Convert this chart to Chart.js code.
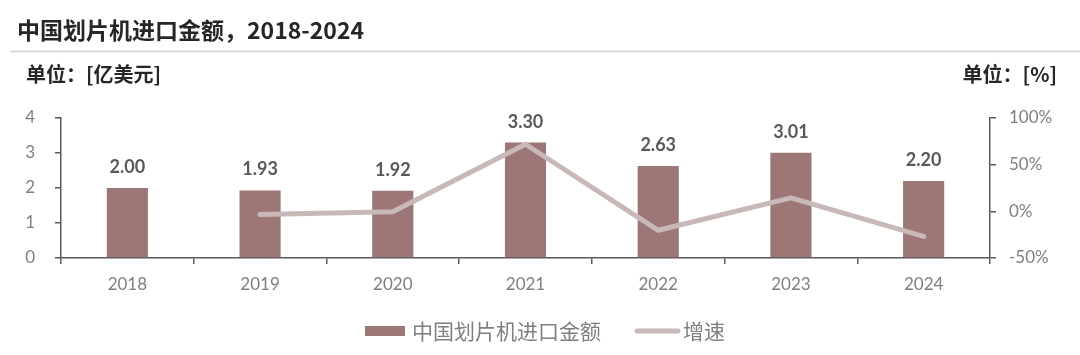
<!DOCTYPE html>
<html><head><meta charset="utf-8">
<script src="https://cdn.jsdelivr.net/npm/chart.js@4.4.1/dist/chart.umd.min.js"></script>
<style>
html,body{margin:0;padding:0;background:#fff;}
#wrap{position:relative;width:1080px;height:355px;}
canvas{position:absolute;left:0;top:0;}
</style></head>
<body><div id="wrap"><canvas id="c" width="1080" height="355"></canvas></div>
<script>
const categories = ['2018','2019','2020','2021','2022','2023','2024'];
const importValues = [2.00, 1.93, 1.92, 3.30, 2.63, 3.01, 2.20];
const growthValues = [null, -3.5, -0.5, 71.9, -20.3, 14.4, -26.9];
const leftTicks = [0, 1, 2, 3, 4];
const rightTicks = [-50, 0, 50, 100];
const titleText = '中国划片机进口金额，2018-2024';
const leftUnit = '单位：[亿美元]';
const rightUnit = '单位：[%]';
const barLabel = '中国划片机进口金额';
const lineLabel = '增速';

const BAR = '#9c7775';
const LINE = '#c8b8b8';
const AXIS = '#595959';
const TICK = '#7f7f7f';
const NUMF = 'Lato, "Noto Sans CJK SC", sans-serif';
const CJK = '"Noto Sans CJK SC", "Noto Sans", sans-serif';

const deco = {
  id: 'deco',
  afterDraw(chart) {
    const ctx = chart.ctx;
    ctx.save();
    ctx.fillStyle = '#262626';
    ctx.font = 'bold 23px ' + CJK;
    ctx.textBaseline = 'middle';
    ctx.textAlign = 'left';
    ctx.fillText(titleText, 17, 30);
    ctx.strokeStyle = '#cfcfcf';
    ctx.lineWidth = 1.5;
    ctx.beginPath(); ctx.moveTo(10, 51.5); ctx.lineTo(1080, 51.5); ctx.stroke();
    ctx.font = 'bold 20px ' + CJK;
    ctx.fillStyle = '#262626';
    ctx.fillText(leftUnit, 26, 74);
    ctx.textAlign = 'right';
    ctx.fillText(rightUnit, 1057, 74);
    const meta = chart.getDatasetMeta(0);
    ctx.font = 'bold 18px ' + NUMF;
    ctx.fillStyle = '#595959';
    ctx.textAlign = 'center';
    ctx.textBaseline = 'alphabetic';
    meta.data.forEach((bar, i) => {
      ctx.fillText(importValues[i].toFixed(2), bar.x, bar.y - 15);
    });
    ctx.fillStyle = BAR;
    ctx.fillRect(365, 326, 40, 10);
    ctx.font = '21px ' + CJK;
    ctx.fillStyle = '#7f7f7f';
    ctx.textAlign = 'left';
    ctx.textBaseline = 'middle';
    ctx.fillText(barLabel, 412, 331);
    ctx.strokeStyle = LINE;
    ctx.lineWidth = 5;
    ctx.lineCap = 'round';
    ctx.beginPath(); ctx.moveTo(637, 331); ctx.lineTo(678, 331); ctx.stroke();
    ctx.fillText(lineLabel, 683, 331);
    ctx.restore();
  }
};

new Chart(document.getElementById('c'), {
  data: {
    labels: categories,
    datasets: [
      { type: 'bar', label: barLabel, data: importValues, backgroundColor: BAR,
        yAxisID: 'y', barPercentage: 0.31, categoryPercentage: 1, order: 2 },
      { type: 'line', label: lineLabel, data: growthValues, borderColor: LINE,
        borderWidth: 5, pointRadius: 0, borderCapStyle: 'round', borderJoinStyle: 'round',
        yAxisID: 'y1', tension: 0, order: 1 }
    ]
  },
  options: {
    responsive: false,
    animation: false,
    layout: { padding: { top: 118, bottom: 57, left: 0, right: 0 } },
    plugins: { legend: { display: false }, tooltip: { enabled: false } },
    scales: {
      x: {
        grid: { display: true, offset: true, drawOnChartArea: false, drawTicks: true, tickLength: 6, color: AXIS, lineWidth: 1.5 },
        border: { display: true, color: AXIS, width: 1.5 },
        ticks: { color: TICK, font: { family: NUMF, size: 17 }, padding: 10 },
        afterFit(s) { s.height = 40; }
      },
      y: {
        position: 'left', min: 0, max: 4,
        afterBuildTicks(s) { s.ticks = leftTicks.map(v => ({ value: v })); },
        grid: { drawOnChartArea: false, drawTicks: true, tickLength: 6, color: AXIS, lineWidth: 1.5 },
        border: { display: true, color: AXIS, width: 1.5 },
        ticks: { color: TICK, font: { family: NUMF, size: 17 }, padding: 20 },
        afterFit(s) { s.width = 61; }
      },
      y1: {
        position: 'right', min: -50, max: 100,
        afterBuildTicks(s) { s.ticks = rightTicks.map(v => ({ value: v })); },
        grid: { drawOnChartArea: false, drawTicks: true, tickLength: 6, color: AXIS, lineWidth: 1.5 },
        border: { display: true, color: AXIS, width: 1.5 },
        ticks: { color: TICK, font: { family: NUMF, size: 17 }, padding: 13, callback: v => v + '%' },
        afterFit(s) { s.width = 90; }
      }
    }
  },
  plugins: [deco]
});
</script></body></html>
